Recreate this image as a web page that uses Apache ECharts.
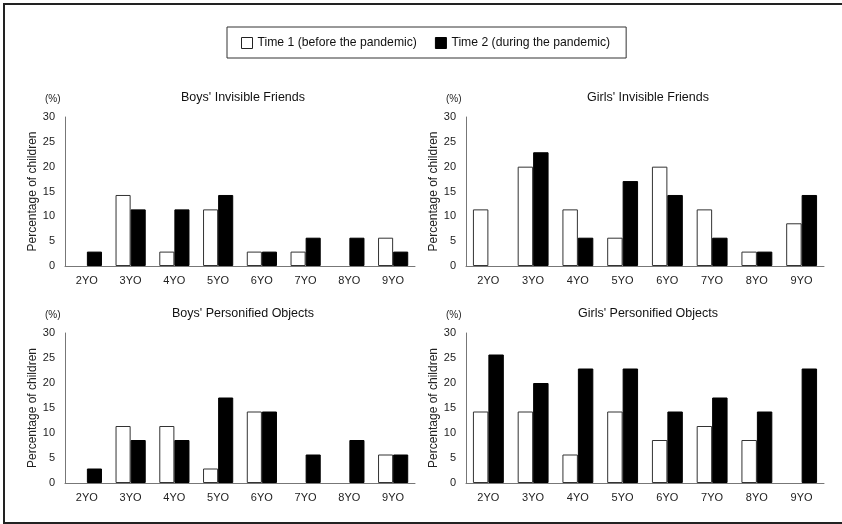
<!DOCTYPE html>
<html>
<head>
<meta charset="utf-8">
<script src="https://cdn.jsdelivr.net/npm/echarts@6/dist/echarts.min.js"></script>
<style>html,body{margin:0;padding:0;background:#fff}#c{width:842px;height:524px}</style>
</head>
<body>
<div id="c"></div>
<script>
var categories = ['2YO','3YO','4YO','5YO','6YO','7YO','8YO','9YO'];
var seriesNames = ['Time 1 (before the pandemic)', 'Time 2 (during the pandemic)'];
var panelTitles = ["Boys' Invisible Friends", "Girls' Invisible Friends", "Boys' Personified Objects", "Girls' Personified Objects"];
var yTicks = [0, 5, 10, 15, 20, 25, 30];

var boysIF_t1 = [0, 14.3, 2.9, 11.4, 2.9, 2.9, 0, 5.7];
var boysIF_t2 = [2.9, 11.4, 11.4, 14.3, 2.9, 5.7, 5.7, 2.9];
var girlsIF_t1 = [11.4, 20.0, 11.4, 5.7, 20.0, 11.4, 2.9, 8.6];
var girlsIF_t2 = [0, 22.9, 5.7, 17.1, 14.3, 5.7, 2.9, 14.3];
var boysPO_t1 = [0, 11.4, 11.4, 2.9, 14.3, 0, 0, 5.7];
var boysPO_t2 = [2.9, 8.6, 8.6, 17.1, 14.3, 5.7, 8.6, 5.7];
var girlsPO_t1 = [14.3, 14.3, 5.7, 14.3, 8.6, 11.4, 8.6, 0];
var girlsPO_t2 = [25.7, 20.0, 22.9, 22.9, 14.3, 17.1, 14.3, 22.9];

var panelData = [
  [boysIF_t1, boysIF_t2],
  [girlsIF_t1, girlsIF_t2],
  [boysPO_t1, boysPO_t2],
  [girlsPO_t1, girlsPO_t2]
];

var FONT = 'Liberation Sans, Arial, sans-serif';
var grids = [
  {left: 65, top: 117, width: 350, height: 149},
  {left: 466, top: 117, width: 358, height: 149},
  {left: 65, top: 333, width: 350, height: 150},
  {left: 466, top: 333, width: 358, height: 150}
];

function toBarData(arr) {
  return arr.map(function (v) {
    return v === 0 ? {value: v, itemStyle: {borderWidth: 0, opacity: 0}} : v;
  });
}

var xAxes = [], yAxes = [], series = [], titles = [];
grids.forEach(function (g, i) {
  xAxes.push({
    type: 'category', gridIndex: i, data: categories,
    axisLine: {lineStyle: {color: '#777', width: 1}},
    axisTick: {show: false},
    axisLabel: {color: '#222', fontSize: 11, fontFamily: FONT, margin: 9}
  });
  yAxes.push({
    type: 'value', gridIndex: i, min: yTicks[0], max: yTicks[yTicks.length - 1], interval: 5,
    axisLine: {show: true, lineStyle: {color: '#777', width: 1}},
    axisTick: {show: false},
    splitLine: {show: false},
    axisLabel: {color: '#222', fontSize: 11, fontFamily: FONT, margin: 10},
    name: 'Percentage of children', nameLocation: 'middle', nameRotate: 90, nameGap: 26,
    nameTextStyle: {color: '#222', fontSize: 12, fontFamily: FONT}
  });
  titles.push({
    text: panelTitles[i], left: g.left + g.width / 2 - 2, top: g.top - 31, textAlign: 'center',
    textStyle: {fontSize: 12.5, fontWeight: 'normal', color: '#111', fontFamily: FONT}
  });
  titles.push({
    text: '(%)', left: g.left - 25, top: g.top - 28,
    textStyle: {fontSize: 10, fontWeight: 'normal', color: '#222', fontFamily: FONT}
  });
  series.push({
    type: 'bar', name: seriesNames[0], xAxisIndex: i, yAxisIndex: i, data: toBarData(panelData[i][0]),
    barGap: '0%', barCategoryGap: '31%',
    itemStyle: {color: '#fff', borderColor: '#333', borderWidth: 1}
  });
  series.push({
    type: 'bar', name: seriesNames[1], xAxisIndex: i, yAxisIndex: i, data: toBarData(panelData[i][1]),
    barGap: '0%', barCategoryGap: '31%',
    itemStyle: {color: '#000', borderColor: '#000', borderWidth: 1}
  });
});

var chart = echarts.init(document.getElementById('c'), null, {renderer: 'canvas'});
chart.setOption({
  animation: false,
  backgroundColor: '#fff',
  title: titles,
  legend: {
    data: [
      {name: seriesNames[0], itemStyle: {color: '#fff', borderColor: '#222', borderWidth: 1}},
      {name: seriesNames[1], itemStyle: {color: '#000', borderColor: '#000', borderWidth: 1}}
    ],
    left: 227, top: 27, width: 390,
    padding: [10, 16, 9, 14],
    borderColor: '#333', borderWidth: 1,
    itemWidth: 11, itemHeight: 11, itemGap: 18,
    icon: 'rect',
    textStyle: {fontSize: 12.2, color: '#111', fontFamily: FONT}
  },
  graphic: [{
    type: 'rect', shape: {x: 4, y: 4, width: 850, height: 519},
    style: {fill: 'none', stroke: '#222', lineWidth: 2}, silent: true
  }],
  grid: grids,
  xAxis: xAxes,
  yAxis: yAxes,
  series: series
});
</script>
</body>
</html>
